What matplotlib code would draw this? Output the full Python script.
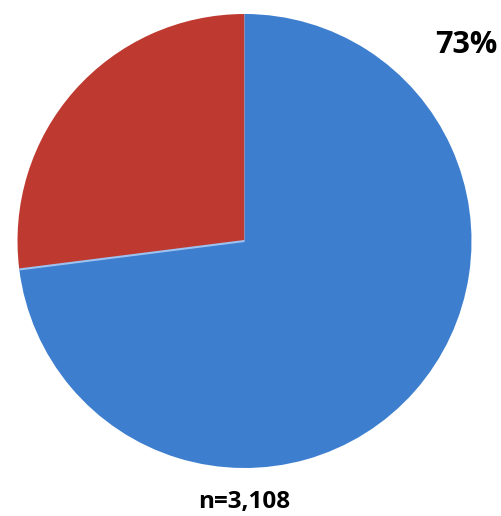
import numpy as np
import matplotlib.pyplot as plt

shares = [27, 73]
colors = ["#BE3A30", "#3D7ECE"]
pct_label = "73%"
n_label = "n=3,108"

fig = plt.figure(figsize=(5.02, 5.16), dpi=100)
ax = fig.add_axes([0, 0, 1, 1])
ax.axis("off")

cx, cy, r = 244.5, 275, 227
ax.pie(shares, colors=colors, startangle=90, counterclock=True,
       center=(cx, cy), radius=r,
       wedgeprops=dict(edgecolor="none", linewidth=0))

# light divider on the lower edge of the red slice
ang = np.deg2rad(90 + 360 * shares[0] / sum(shares))
ax.plot([cx, cx + r * np.cos(ang)], [cy, cy + r * np.sin(ang)],
        color="#9CC2F0", lw=1.5, solid_capstyle="butt")

ax.set_xlim(0, 502)
ax.set_ylim(0, 516)
ax.set_aspect("equal")

ax.text(466, 471, pct_label, ha="center", va="center", fontsize=22,
        fontweight="bold", family="Open Sans")
ax.text(244, 14, n_label, ha="center", va="center", fontsize=17.5,
        fontweight="bold", family="Open Sans")

plt.savefig("out.png", dpi=100)
